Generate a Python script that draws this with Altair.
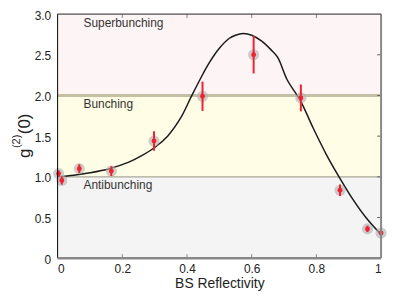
import altair as alt
import pandas as pd

# measured points
meas_x = [0.003, 0.013, 0.067, 0.166, 0.298, 0.448, 0.606, 0.752, 0.873, 0.958, 1.0]
meas_y = [1.04, 0.955, 1.10, 1.07, 1.44, 1.99, 2.50, 1.97, 0.835, 0.36, 0.31]
meas_err = [0.04, 0.05, 0.055, 0.06, 0.12, 0.18, 0.23, 0.165, 0.07, 0.04, 0.03]

# theory curve
curve_x = [0.0, 0.05, 0.10, 0.16, 0.22, 0.26, 0.30, 0.34, 0.38, 0.415, 0.45, 0.47, 0.50,
           0.53, 0.55, 0.574, 0.60, 0.63, 0.66, 0.68, 0.71, 0.75, 0.79, 0.83, 0.87,
           0.915, 0.955, 1.0]
curve_y = [1.0, 1.02, 1.05, 1.10, 1.18, 1.26, 1.36, 1.50, 1.72, 2.0, 2.27, 2.41, 2.58,
           2.70, 2.74, 2.76, 2.74, 2.67, 2.56, 2.47, 2.19, 1.94, 1.60, 1.28, 1.0,
           0.71, 0.49, 0.29]

# regions
band_lo = [0, 1, 2]
band_hi = [1, 2, 3]
band_color = ["#f4f4f4", "#fffde5", "#fdf5f5"]
band_label = ["Antibunching", "Bunching", "Superbunching"]
label_x = [0.08, 0.08, 0.08]
label_y = [0.895, 1.89, 2.89]

x_ticks = [0, 0.2, 0.4, 0.6, 0.8, 1]
y_ticks = [0, 0.5, 1, 1.5, 2, 2.5, 3]

# y title pieces: g, superscript (2), (0)
ytitle_parts = ["g", "(2)", "(0)"]

W, H = 326, 246
FONT = "Liberation Sans"

meas = pd.DataFrame({"x": meas_x, "y": meas_y,
                     "lo": [a - b for a, b in zip(meas_y, meas_err)],
                     "hi": [a + b for a, b in zip(meas_y, meas_err)]})
curve = pd.DataFrame({"x": curve_x, "y": curve_y})
bands = pd.DataFrame({"lo": band_lo, "hi": band_hi, "c": band_color})
labels = pd.DataFrame({"x": label_x, "y": label_y, "t": band_label})

xs = alt.Scale(domain=[0, 1], nice=False, zero=False)
ys = alt.Scale(domain=[0, 3], nice=False, zero=False)

X = lambda f="x": alt.X(f, type="quantitative", scale=xs,
                        axis=alt.Axis(values=x_ticks, labelExpr="format(datum.value, '~g')",
                                      title="BS Reflectivity", domain=False, ticks=False,
                                      grid=False, labelPadding=5, titlePadding=3,
                                      labelFontSize=12, titleFontSize=14,
                                      labelFont=FONT, titleFont=FONT, labelColor="#222",
                                      titleColor="#222", titleFontWeight="normal"))
Y = lambda f="y": alt.Y(f, type="quantitative", scale=ys,
                        axis=alt.Axis(values=y_ticks,
                                      labelExpr="datum.value == 0 ? '0' : format(datum.value, '.1f')",
                                      title=None, domain=False, ticks=False, grid=False,
                                      labelPadding=7, labelFontSize=12, labelOffset=1,
                                      labelFont=FONT, labelColor="#222"))

bg = alt.Chart(bands).mark_rect().encode(
    x=alt.value(0), x2=alt.value(W),
    y=Y("lo"), y2="hi",
    color=alt.Color("c:N", scale=None))

line2 = alt.Chart(pd.DataFrame({"y": [2]})).mark_rule(color="#c4c0a6", strokeWidth=3).encode(
    y=Y(), x=alt.value(0), x2=alt.value(W))
line1 = alt.Chart(pd.DataFrame({"y": [1]})).mark_rule(color="#a8a898", strokeWidth=1.2).encode(
    y=Y(), x=alt.value(0), x2=alt.value(W))

txt = alt.Chart(labels).mark_text(align="left", baseline="middle", fontSize=12,
                                  font=FONT, color="#333").encode(
    x=X(), y=Y(), text="t:N")

# frame
frame_v = pd.DataFrame({"x": [0, 1], "c": ["#000000", "#888888"], "w": [1, 2]})
frame_h = pd.DataFrame({"y": [0, 3], "c": ["#888888", "#222222"], "w": [2.5, 1]})
fv = alt.Chart(frame_v).mark_rule().encode(
    x=X(), y=alt.value(0), y2=alt.value(H),
    color=alt.Color("c:N", scale=None), strokeWidth=alt.StrokeWidth("w:Q", scale=None))
fh = alt.Chart(frame_h).mark_rule().encode(
    y=Y(), x=alt.value(0), x2=alt.value(W),
    color=alt.Color("c:N", scale=None), strokeWidth=alt.StrokeWidth("w:Q", scale=None))

# inward ticks
tk_top = alt.Chart(pd.DataFrame({"x": x_ticks[1:-1]})).mark_rule(color="#888", strokeWidth=1).encode(
    x=X(), y=alt.value(0), y2=alt.value(4))
tk_bot = alt.Chart(pd.DataFrame({"x": x_ticks[1:-1]})).mark_rule(color="#888", strokeWidth=1).encode(
    x=X(), y=alt.value(H), y2=alt.value(H - 4))
tk_right = alt.Chart(pd.DataFrame({"y": y_ticks[1:-1]})).mark_rule(color="#666", strokeWidth=1).encode(
    y=Y(), x=alt.value(W), x2=alt.value(W - 4))

curve_l = alt.Chart(curve).mark_line(color="#1a1a1a", strokeWidth=1.5, interpolate="catmull-rom").encode(
    x=X(), y=Y())

halo = alt.Chart(meas).mark_circle(color="#b4b4b4", opacity=0.65, size=125).encode(x=X(), y=Y())
err = alt.Chart(meas).mark_rule(color="#ee2230", strokeWidth=2).encode(x=X(), y=Y("lo"), y2="hi")
dot = alt.Chart(meas).mark_circle(color="#ee2230", opacity=1, size=24).encode(x=X(), y=Y())

# rotated y-axis title built from pieces
def title_piece(t, size, xpx, ypx):
    return alt.Chart(pd.DataFrame({"t": [t]})).mark_text(
        angle=270, align="left", baseline="alphabetic", fontSize=size, font=FONT, color="#222"
    ).encode(text="t:N", x=alt.value(xpx), y=alt.value(ypx))

tg = title_piece(ytitle_parts[0], 17, -28, 145)
t2 = title_piece(ytitle_parts[1], 11, -38, 135)
t0 = title_piece(ytitle_parts[2], 17, -28, 121)

chart = alt.layer(bg, line1, line2, txt, tk_top, tk_bot, tk_right, curve_l, halo, err, dot, fv, fh,
                  tg, t2, t0).properties(
    width=W, height=H,
    autosize=alt.AutoSizeParams(type="none"),
    padding={"left": 50, "top": 5, "right": 10, "bottom": 40},
).configure_view(stroke=None)

chart.save("out.html", embed_options={"renderer": "svg", "actions": False})
